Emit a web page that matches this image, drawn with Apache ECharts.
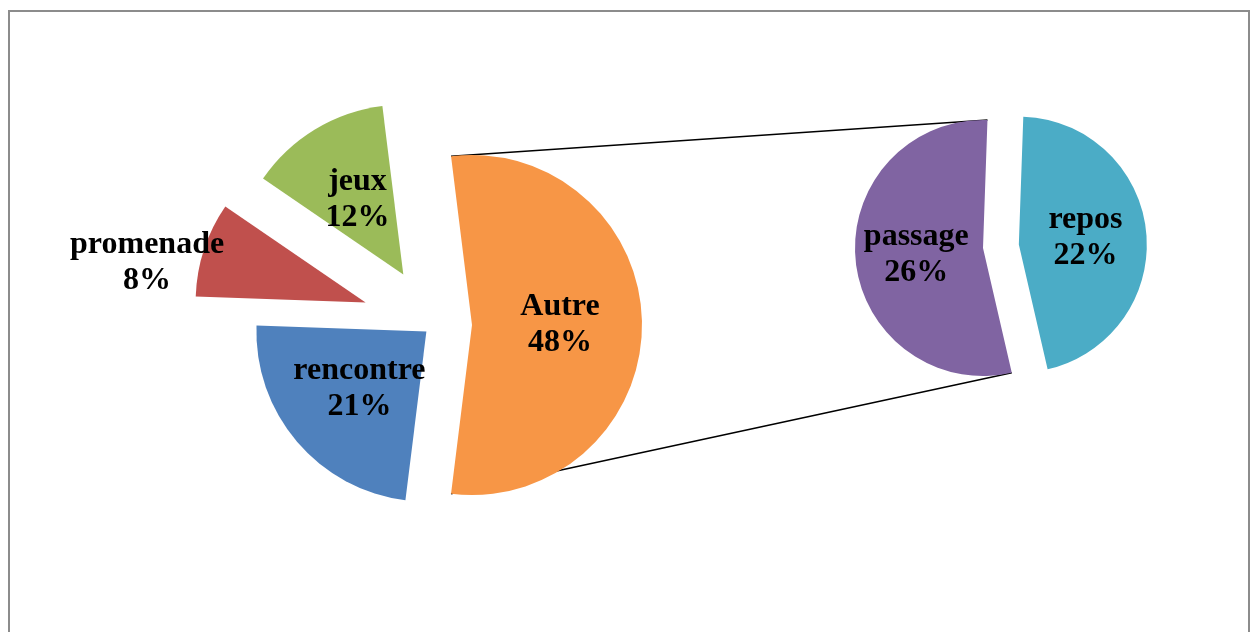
<!DOCTYPE html>
<html>
<head>
<meta charset="utf-8">
<script src="https://cdn.jsdelivr.net/npm/echarts@6/dist/echarts.min.js"></script>
<style>
  html, body { margin: 0; padding: 0; background: #ffffff; }
  #chart { width: 1255px; height: 632px; }
</style>
</head>
<body>
<div id="chart"></div>
<script>
// Main pie: activities, with "Autre" broken out into a secondary pie
const mainNames = ['Autre', 'rencontre', 'promenade', 'jeux'];
const mainValues = [48, 21, 8, 12];
// Secondary pie: breakdown of "Autre"
const subNames = ['passage', 'repos'];
const subValues = [26, 22];

// Styling
const mainColors = ['#F79646', '#4F81BD', '#C0504D', '#9BBB59'];
const subColors = ['#8064A2', '#4BACC6'];
const mainExplode = [38, 10, 72, 59];
const subExplode = 36;

const mainCenter = [434, 325];
const mainRadius = 170;
const subCenter = [983, 248];
const subRadius = 128;

const labelFont = {
  fontFamily: '"Liberation Serif", "Times New Roman", serif',
  fontWeight: 'bold',
  fontSize: 32,
  lineHeight: 36,
  color: '#000000'
};

const mainTotal = mainValues.reduce((a, b) => a + b, 0);
const subTotal = subValues.reduce((a, b) => a + b, 0);
// "Autre" is centred on the right-hand side, facing the secondary pie
const mainStart = mainValues[0] / mainTotal * 180;
// "passage" ends at the bottom link point and runs clockwise round the left side
const subStart = -77;

const fmt = p => p.name + '\n' + p.value + '%';

// One series per main slice so each slice can be pulled out by its own distance
const mainSeries = mainNames.map((name, i) => ({
  type: 'pie',
  center: mainCenter,
  radius: mainRadius,
  startAngle: mainStart,
  clockwise: true,
  avoidLabelOverlap: false,
  animation: false,
  silent: true,
  selectedMode: 'single',
  selectedOffset: mainExplode[i],
  z: 2,
  label: Object.assign({
    show: true,
    position: name === 'promenade' ? 'outside' : 'inside',
    formatter: fmt
  }, labelFont),
  labelLine: { show: false, length: 0, length2: 0 },
  labelLayout: name === 'promenade' ? { align: 'center', dx: -52, dy: 13 } : null,
  select: { itemStyle: { borderWidth: 0 } },
  data: mainNames.map((n, j) => ({
    name: n,
    value: mainValues[j],
    selected: j === i,
    itemStyle: { color: j === i ? mainColors[j] : 'rgba(0,0,0,0)', borderWidth: 0 },
    select: { itemStyle: { color: j === i ? mainColors[j] : 'rgba(0,0,0,0)', borderWidth: 0 } },
    label: { show: j === i }
  }))
}));

const subSeries = {
  type: 'pie',
  center: subCenter,
  radius: subRadius,
  startAngle: subStart,
  clockwise: true,
  avoidLabelOverlap: false,
  animation: false,
  silent: true,
  selectedMode: 'single',
  selectedOffset: subExplode,
  label: Object.assign({ show: true, position: 'inside', formatter: fmt }, labelFont),
  labelLine: { show: false },
  data: subNames.map((n, j) => ({
    name: n,
    value: subValues[j],
    selected: n === 'repos',
    itemStyle: { color: subColors[j], borderWidth: 0 },
    select: { itemStyle: { color: subColors[j], borderWidth: 0 } }
  }))
};

// Connector lines from the edges of "Autre" to the edges of "passage"
const rad = d => d * Math.PI / 180;
const autreTip = [mainCenter[0] + mainExplode[0], mainCenter[1]];
const autreTop = [autreTip[0] + mainRadius * Math.cos(rad(mainStart)), autreTip[1] - mainRadius * Math.sin(rad(mainStart))];
const autreBottom = [autreTip[0] + mainRadius * Math.cos(rad(-mainStart)), autreTip[1] - mainRadius * Math.sin(rad(-mainStart))];
const passageSweep = subValues[0] / subTotal * 360;
const passageEnd = subStart - passageSweep;
const subTop = [subCenter[0] + subRadius * Math.cos(rad(passageEnd)), subCenter[1] - subRadius * Math.sin(rad(passageEnd))];
const subBottom = [subCenter[0] + subRadius * Math.cos(rad(subStart)), subCenter[1] - subRadius * Math.sin(rad(subStart))];

const chart = echarts.init(document.getElementById('chart'), null, { renderer: 'canvas' });
chart.setOption({
  backgroundColor: '#ffffff',
  animation: false,
  graphic: [
    {
      type: 'rect',
      shape: { x: 9, y: 11, width: 1240, height: 640 },
      style: { fill: 'none', stroke: '#8c8c8c', lineWidth: 2 },
      z: 0
    },
    {
      type: 'line',
      shape: { x1: autreTop[0], y1: autreTop[1], x2: subTop[0], y2: subTop[1] },
      style: { stroke: '#000000', lineWidth: 1.5 },
      z: 1
    },
    {
      type: 'line',
      shape: { x1: autreBottom[0], y1: autreBottom[1], x2: subBottom[0], y2: subBottom[1] },
      style: { stroke: '#000000', lineWidth: 1.5 },
      z: 1
    }
  ],
  series: mainSeries.concat([subSeries])
});
</script>
</body>
</html>
